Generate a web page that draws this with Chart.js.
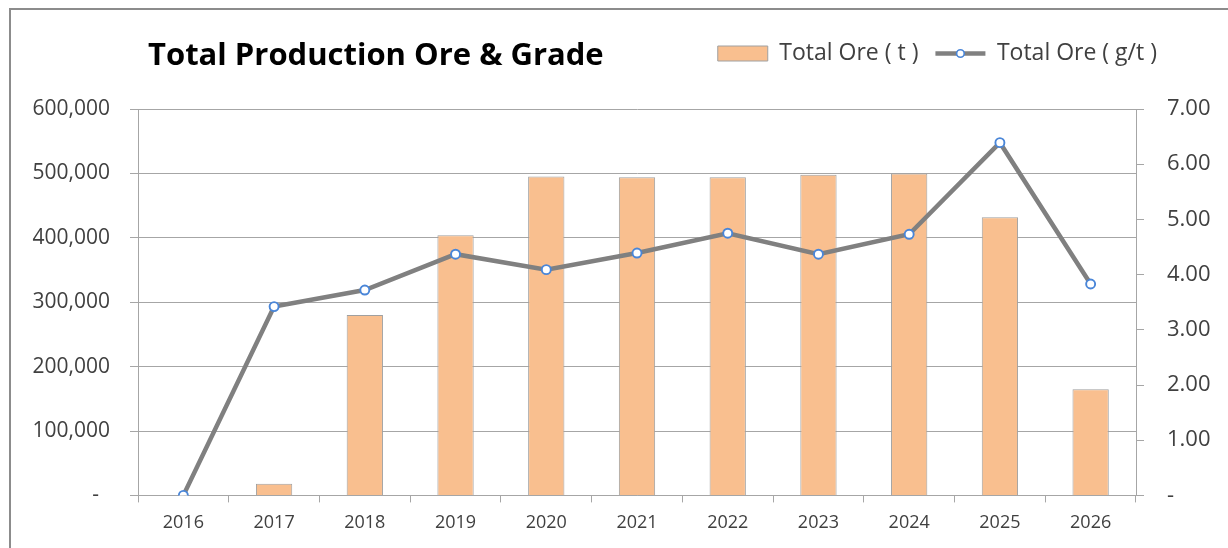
<!DOCTYPE html>
<html>
<head>
<meta charset="utf-8">
<script src="https://cdn.jsdelivr.net/npm/chart.js@4/dist/chart.umd.min.js"></script>
<style>
  html, body { margin: 0; padding: 0; background: #fff; }
  #wrap { position: relative; width: 1228px; height: 548px; overflow: hidden; }
  #frame {
    position: absolute; left: 9px; top: 8px; right: -4px; bottom: -4px;
    border-top: 2px solid #8c8c8c; border-left: 2px solid #8c8c8c;
  }
  #title {
    position: absolute; left: 148px; top: 38px;
    font: bold 31px/1 "Open Sans", sans-serif; color: #000;
    white-space: nowrap;
  }
  canvas { position: absolute; left: 0; top: 0; }
</style>
</head>
<body>
<div id="wrap">
  <div id="frame"></div>
  <canvas id="chart" width="1228" height="548"></canvas>
  <div id="title">Total Production Ore &amp; Grade</div>
</div>
<script>
// Chart data
const years = ["2016", "2017", "2018", "2019", "2020", "2021", "2022", "2023", "2024", "2025", "2026"];
const oreTonnes = [0, 18000, 280000, 404000, 495000, 494000, 494000, 498000, 500000, 432000, 165000];
const oreGrade = [0, 3.42, 3.72, 4.37, 4.09, 4.39, 4.75, 4.37, 4.73, 6.39, 3.83];

const tickColor = "#404040";
const gridColor = "#a6a6a6";
const barColor = "#f9bf8f";
const lineColor = "#808080";
const markerColor = "#4a86d8";

// extra room under the legend, and move the legend in from the right edge
const legendTweaks = {
  id: "legendTweaks",
  beforeInit(chart) {
    const fit = chart.legend.fit;
    chart.legend.fit = function () {
      fit.bind(chart.legend)();
      this.height += 34;
    };
  },
  afterLayout(chart) {
    chart.legend.right -= 44;
  },
};

// little marker in the middle of the line legend entry
const legendMarker = {
  id: "legendMarker",
  afterDraw(chart) {
    const legend = chart.legend;
    if (!legend || !legend.legendHitBoxes[1]) return;
    const box = legend.legendHitBoxes[1];
    const ctx = chart.ctx;
    ctx.save();
    ctx.beginPath();
    ctx.arc(box.left + 25, box.top + box.height / 2, 3.8, 0, Math.PI * 2);
    ctx.fillStyle = "#ffffff";
    ctx.fill();
    ctx.lineWidth = 1.6;
    ctx.strokeStyle = markerColor;
    ctx.stroke();
    ctx.restore();
  },
};

const ctx = document.getElementById("chart").getContext("2d");

new Chart(ctx, {
  data: {
    labels: years,
    datasets: [
      {
        type: "bar",
        label: "Total Ore ( t )",
        data: oreTonnes,
        yAxisID: "y",
        backgroundColor: barColor,
        borderColor: "#a0a0a0",
        borderWidth: 1,
        categoryPercentage: 1,
        barPercentage: 0.4,
        order: 1,
      },
      {
        type: "line",
        label: "Total Ore ( g/t )",
        data: oreGrade,
        yAxisID: "y1",
        borderColor: lineColor,
        borderWidth: 4.5,
        tension: 0,
        pointRadius: 4.5,
        pointBorderWidth: 1.9,
        pointBackgroundColor: "#ffffff",
        pointBorderColor: markerColor,
        order: 0,
      },
    ],
  },
  options: {
    responsive: false,
    animation: false,
    layout: {
      padding: { top: 25, right: 10, bottom: 4, left: 0 },
    },
    plugins: {
      tooltip: { enabled: false },
      legend: {
        position: "top",
        align: "end",
        labels: {
          usePointStyle: true,
          pointStyleWidth: 50,
          boxHeight: 15,
          padding: 17,
          color: tickColor,
          font: { family: "Open Sans", size: 23 },
          generateLabels(chart) {
            const items = Chart.defaults.plugins.legend.labels.generateLabels(chart);
            items.sort((a, b) => a.datasetIndex - b.datasetIndex);
            items.forEach((item) => {
              if (item.datasetIndex === 1) {
                item.pointStyle = "line";
                item.strokeStyle = lineColor;
                item.lineWidth = 4.5;
              } else {
                item.pointStyle = "rect";
                item.fillStyle = barColor;
                item.strokeStyle = "#a0a0a0";
                item.lineWidth = 1;
              }
            });
            return items;
          },
        },
      },
    },
    scales: {
      x: {
        offset: true,
        grid: {
          offset: true,
          drawOnChartArea: false,
          drawTicks: true,
          tickLength: 7,
          color: gridColor,
        },
        border: { color: gridColor },
        ticks: {
          color: tickColor,
          padding: 10,
          font: { family: "Open Sans", size: 18 },
        },
      },
      y: {
        position: "left",
        min: 0,
        max: 600000,
        afterFit(scale) {
          scale.width = 138;
        },
        grid: { color: gridColor, tickLength: 8 },
        border: { color: gridColor },
        ticks: {
          stepSize: 100000,
          padding: 20,
          color: tickColor,
          font: { family: "Open Sans", size: 21 },
          callback: (v) => (v === 0 ? "-  " : v.toLocaleString("en-US")),
        },
      },
      y1: {
        position: "right",
        min: 0,
        max: 7,
        afterFit(scale) {
          scale.width = 82;
        },
        grid: { drawOnChartArea: false, color: gridColor, tickLength: 8 },
        border: { color: gridColor },
        ticks: {
          stepSize: 1,
          padding: 23,
          color: tickColor,
          font: { family: "Open Sans", size: 22 },
          callback: (v) => (v === 0 ? "-" : v.toFixed(2)),
        },
      },
    },
  },
  plugins: [legendTweaks, legendMarker],
});
</script>
</body>
</html>
